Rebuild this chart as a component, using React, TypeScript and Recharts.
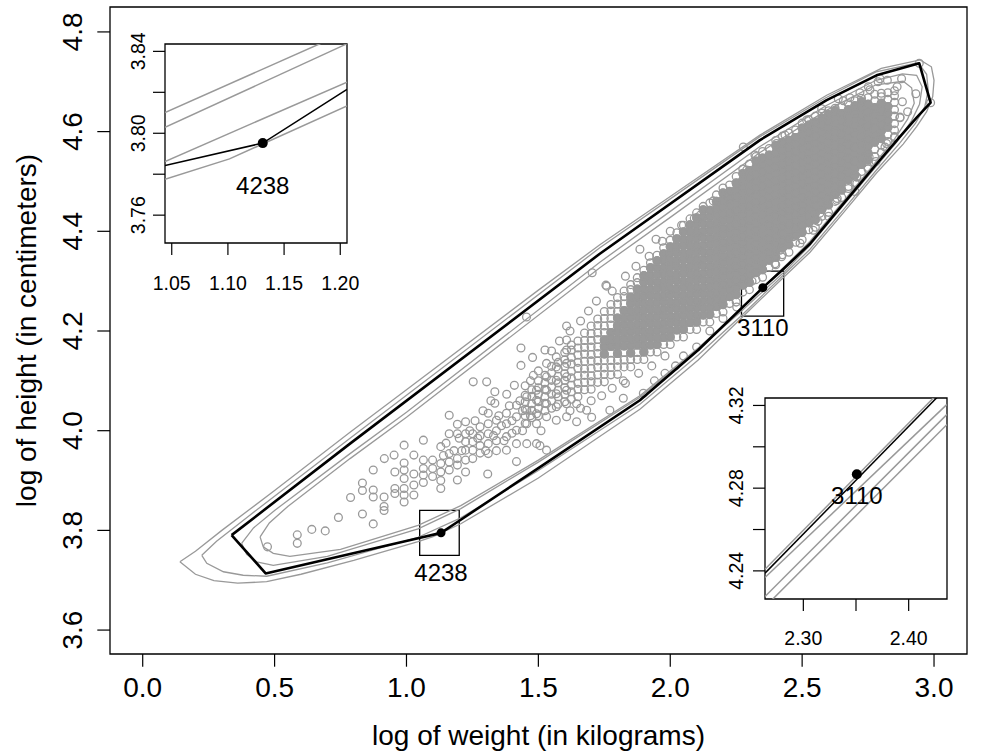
import React from 'react';
import { ComposedChart, Scatter, XAxis, YAxis, ReferenceArea } from 'recharts';

const FONT = '"Liberation Sans", Arial, Helvetica, sans-serif';
const GRAY = '#999999';
const BLACK = '#000000';

const X_TITLE = 'log of weight (in kilograms)';
const Y_TITLE = 'log of height (in centimeters)';

// ---------- main axes ----------
const mainXTicks = [0, 0.5, 1, 1.5, 2, 2.5, 3];
const mainYTicks = [3.6, 3.8, 4.0, 4.2, 4.4, 4.6, 4.8];
const mainXDomain = [-0.124, 3.125];
const mainYDomain = [3.552, 4.85];

// ---------- scattered (sparse) observations [logWeight, logHeight] ----------
const sparsePoints = [
  [0.473,3.767],[0.586,3.791],[0.586,3.774],[0.641,3.802],[0.692,3.799],[0.742,3.826],[0.788,3.866],[0.833,3.833],[0.833,3.895],[0.833,3.880],
  [0.874,3.813],[0.874,3.921],[0.874,3.881],[0.874,3.867],[0.915,3.867],[0.915,3.848],[0.915,3.840],[0.916,3.944],[0.953,3.951],[0.956,3.917],
  [0.956,3.884],[0.956,3.874],[0.991,3.971],[0.991,3.935],[0.991,3.921],[0.991,3.904],[0.991,3.884],[0.991,3.871],[0.991,3.857],[1.028,3.951],
  [1.028,3.913],[1.028,3.891],[1.028,3.871],[1.064,3.981],[1.064,3.941],[1.064,3.924],[1.064,3.911],[1.064,3.896],[1.099,3.941],[1.099,3.924],
  [1.099,3.908],[1.130,3.968],[1.130,3.934],[1.130,3.917],[1.130,3.900],[1.130,3.884],[1.162,4.031],[1.162,3.994],[1.162,3.954],[1.162,3.937],
  [1.162,3.921],[1.193,4.013],[1.193,3.994],[1.193,3.944],[1.193,3.931],[1.193,3.901],[1.224,4.018],[1.224,3.994],[1.224,3.978],[1.224,3.961],
  [1.224,3.941],[1.224,3.917],[1.251,3.994],[1.251,3.978],[1.251,3.961],[1.251,3.944],[1.253,4.098],[1.279,4.008],[1.279,3.990],[1.279,3.970],
  [1.279,3.955],[1.304,4.098],[1.310,4.035],[1.310,4.014],[1.310,3.994],[1.310,3.974],[1.310,3.954],[1.308,3.913],[1.335,4.078],[1.335,4.055],
  [1.341,4.021],[1.341,4.000],[1.341,3.980],[1.341,3.960],[1.380,4.073],[1.379,4.035],[1.379,4.014],[1.379,3.988],[1.379,3.961],[1.409,4.091],
  [1.417,4.051],[1.417,4.028],[1.417,4.001],[1.417,3.974],[1.417,3.938],[1.434,4.166],[1.434,4.131],[1.455,4.228],[1.456,4.068],[1.456,4.041],
  [1.456,4.014],[1.456,3.974],[1.478,4.147],[1.481,4.111],[1.493,4.081],[1.493,4.061],[1.493,4.034],[1.493,4.014],[1.493,3.974],[1.525,4.162],
  [1.531,4.135],[1.531,4.108],[1.531,4.081],[1.531,4.054],[1.531,4.028],[1.531,3.961],[1.506,3.970],[1.568,4.148],[1.568,4.128],[1.568,4.101],
  [1.568,4.074],[1.568,4.048],[1.568,4.021],[1.607,4.210],[1.607,4.182],[1.607,4.162],[1.607,4.135],[1.607,4.108],[1.607,4.081],[1.607,4.054],
  [1.607,4.028],[1.645,4.018],[1.645,4.054],[1.683,4.041],[1.702,4.027],[1.704,4.317],[1.756,4.292],[1.759,4.290],[1.771,4.041],[1.822,4.065],
  [1.822,4.100],[1.898,4.075],[1.885,4.364],[1.946,4.384],[1.940,4.100],[1.980,4.115],[2.020,4.130],[2.050,4.150],[2.100,4.168],[2.043,4.412],
  [2.091,4.426],[2.113,4.432],[2.163,4.461],[2.220,4.469],[2.252,4.495],[2.290,4.523],[2.321,4.553],[2.277,4.569],[2.403,4.576],[2.435,4.593],
  [2.517,4.623],[2.574,4.646],[2.637,4.666],[2.656,4.662],[2.681,4.668],[2.719,4.678],[2.751,4.690],[2.757,4.684],[2.788,4.700],[2.795,4.706],
  [2.823,4.703],[2.877,4.706],[2.944,4.737],[2.931,4.676],[2.987,4.658],[2.871,4.628],[2.814,4.569],[2.754,4.549],[2.707,4.509],[2.707,4.496],
  [2.675,4.486],[2.633,4.466],[2.567,4.436],[2.542,4.402],[2.492,4.376],[2.466,4.389],[2.422,4.349],[2.416,4.362],[2.397,4.335],[2.277,4.307],
  [2.252,4.248],[2.200,4.225],[2.150,4.200],[2.310,4.300],[2.600,4.430],[2.750,4.525],[2.850,4.590],[2.900,4.640],[2.880,4.660],[2.860,4.690],
  [1.140,3.950],[1.150,3.975],[1.180,3.960],[1.200,3.985],[1.210,3.960],[1.240,4.000],[1.260,4.020],[1.270,3.985],[1.290,4.040],[1.300,3.960],
  [1.320,4.060],[1.330,3.990],[1.350,4.030],[1.360,4.010],[1.370,3.980],[1.390,4.050],[1.400,4.020],[1.400,3.995],[1.430,4.060],[1.440,4.040],
  [1.440,4.000],[1.450,4.090],[1.470,4.030],[1.470,4.100],[1.500,4.120],[1.510,4.000],[1.550,4.160],[1.580,4.180],[1.620,4.200],[1.660,4.220],
  [1.690,4.240],[1.720,4.260],[1.780,4.280],[1.830,4.310],[1.870,4.330],[1.920,4.350],[1.970,4.380],[2.000,4.400],[1.620,4.040],[1.660,4.045],
  [1.700,4.060],[1.740,4.070],[1.780,4.085],[1.830,4.095],[1.880,4.115],[1.930,4.130],[1.980,4.150],
  [2.593,4.462],[2.631,4.462],[2.707,4.509],[2.820,4.576],[2.871,4.629],[2.700,4.480],[2.780,4.540],[2.560,4.420],
];

// ---------- dense core observations: [logWeight, logHeight...] ----------
const densePoints = [
  [1.450,4.015,4.030,4.043,4.058,4.071],
  [1.475,4.026,4.041,4.054,4.069,4.082],
  [1.500,4.030,4.045,4.058,4.073,4.086,4.100],
  [1.525,4.040,4.055,4.068,4.083,4.096,4.111],
  [1.550,4.045,4.060,4.073,4.088,4.101,4.116,4.129],
  [1.575,4.053,4.068,4.081,4.096,4.109,4.124,4.137],
  [1.600,4.058,4.073,4.086,4.101,4.114,4.129,4.142,4.157],
  [1.625,4.063,4.078,4.091,4.106,4.119,4.134,4.147,4.162,4.172],
  [1.650,4.068,4.083,4.095,4.110,4.125,4.137,4.152,4.166,4.180],
  [1.675,4.082,4.097,4.111,4.124,4.139,4.154,4.167,4.181,4.196],
  [1.700,4.083,4.098,4.110,4.125,4.140,4.153,4.168,4.181,4.195,4.210],
  [1.725,4.097,4.112,4.127,4.140,4.155,4.168,4.183,4.196,4.211,4.224],
  [1.750,4.098,4.113,4.126,4.141,4.154,4.169,4.182,4.197,4.210,4.225,4.239],
  [1.775,4.112,4.127,4.141,4.156,4.169,4.184,4.197,4.212,4.225,4.240,4.253],
  [1.800,4.113,4.128,4.141,4.155,4.170,4.183,4.198,4.211,4.226,4.239,4.254,4.267],
  [1.825,4.128,4.142,4.157,4.170,4.185,4.198,4.213,4.226,4.241,4.254,4.269,4.280],
  [1.850,4.128,4.143,4.156,4.171,4.184,4.199,4.212,4.227,4.240,4.255,4.268,4.283,4.293],
  [1.875,4.143,4.157,4.172,4.185,4.200,4.213,4.228,4.241,4.256,4.269,4.284,4.297,4.307],
  [1.900,4.143,4.158,4.171,4.186,4.199,4.214,4.227,4.242,4.255,4.270,4.283,4.298,4.311,4.322],
  [1.925,4.158,4.172,4.187,4.200,4.215,4.228,4.243,4.256,4.271,4.284,4.299,4.312,4.327,4.337],
  [1.950,4.158,4.173,4.186,4.201,4.214,4.229,4.242,4.257,4.270,4.285,4.298,4.313,4.326,4.341,4.352],
  [1.975,4.173,4.187,4.202,4.215,4.230,4.243,4.258,4.271,4.286,4.299,4.314,4.327,4.342,4.355,4.367],
  [2.000,4.173,4.188,4.201,4.216,4.229,4.244,4.257,4.272,4.285,4.300,4.313,4.328,4.341,4.356,4.369,4.382],
  [2.025,4.188,4.202,4.217,4.230,4.245,4.258,4.273,4.286,4.301,4.314,4.329,4.342,4.357,4.370,4.385,4.397],
  [2.050,4.188,4.203,4.216,4.231,4.244,4.259,4.272,4.287,4.300,4.315,4.328,4.343,4.356,4.371,4.384,4.399,4.412],
  [2.075,4.203,4.217,4.232,4.245,4.260,4.273,4.288,4.301,4.316,4.329,4.344,4.357,4.372,4.385,4.400,4.413,4.425],
  [2.100,4.203,4.218,4.231,4.246,4.259,4.274,4.287,4.302,4.315,4.330,4.343,4.358,4.371,4.386,4.399,4.414,4.427,4.437],
  [2.125,4.218,4.232,4.247,4.260,4.275,4.288,4.303,4.316,4.331,4.344,4.359,4.372,4.387,4.400,4.415,4.428,4.443,4.450],
  [2.150,4.218,4.233,4.246,4.261,4.274,4.289,4.302,4.317,4.330,4.345,4.358,4.373,4.386,4.401,4.414,4.429,4.442,4.457],
  [2.175,4.235,4.249,4.264,4.277,4.292,4.305,4.320,4.333,4.348,4.361,4.376,4.389,4.404,4.417,4.432,4.445,4.460,4.473],
  [2.200,4.238,4.253,4.266,4.281,4.294,4.309,4.322,4.337,4.350,4.365,4.378,4.393,4.406,4.421,4.434,4.449,4.462,4.477,4.487],
  [2.225,4.255,4.269,4.284,4.297,4.312,4.325,4.340,4.353,4.368,4.381,4.396,4.409,4.424,4.437,4.452,4.465,4.480,4.493],
  [2.250,4.258,4.273,4.286,4.301,4.314,4.329,4.342,4.357,4.370,4.385,4.398,4.413,4.426,4.441,4.454,4.469,4.482,4.497,4.510],
  [2.275,4.278,4.292,4.307,4.320,4.335,4.348,4.363,4.376,4.391,4.404,4.419,4.432,4.447,4.460,4.475,4.488,4.503,4.516,4.525],
  [2.300,4.283,4.298,4.311,4.326,4.339,4.354,4.367,4.382,4.395,4.410,4.423,4.438,4.451,4.466,4.479,4.494,4.507,4.522,4.535],
  [2.325,4.303,4.317,4.332,4.345,4.360,4.373,4.388,4.401,4.416,4.429,4.444,4.457,4.472,4.485,4.500,4.513,4.528,4.541,4.550],
  [2.350,4.308,4.323,4.336,4.351,4.364,4.379,4.392,4.407,4.420,4.435,4.448,4.463,4.476,4.491,4.504,4.519,4.532,4.547,4.560],
  [2.375,4.328,4.342,4.357,4.370,4.385,4.398,4.413,4.426,4.441,4.454,4.469,4.482,4.497,4.510,4.525,4.538,4.553,4.566],
  [2.400,4.333,4.348,4.361,4.376,4.389,4.404,4.417,4.432,4.445,4.460,4.473,4.488,4.501,4.516,4.529,4.544,4.557,4.572,4.582],
  [2.425,4.353,4.367,4.382,4.395,4.410,4.423,4.438,4.451,4.466,4.479,4.494,4.507,4.522,4.535,4.550,4.563,4.578,4.591],
  [2.450,4.358,4.373,4.386,4.401,4.414,4.429,4.442,4.457,4.470,4.485,4.498,4.513,4.526,4.541,4.554,4.569,4.582,4.597],
  [2.475,4.378,4.392,4.407,4.420,4.435,4.448,4.463,4.476,4.491,4.504,4.519,4.532,4.547,4.560,4.575,4.588,4.603],
  [2.500,4.383,4.398,4.411,4.426,4.439,4.454,4.467,4.482,4.495,4.510,4.523,4.538,4.551,4.566,4.579,4.594,4.607,4.617],
  [2.525,4.403,4.417,4.432,4.445,4.460,4.473,4.488,4.501,4.516,4.529,4.544,4.557,4.572,4.585,4.600,4.613,4.624],
  [2.550,4.408,4.423,4.436,4.451,4.464,4.479,4.492,4.507,4.520,4.535,4.548,4.563,4.576,4.591,4.604,4.619,4.631],
  [2.575,4.430,4.444,4.459,4.472,4.487,4.500,4.515,4.528,4.543,4.556,4.571,4.584,4.599,4.612,4.627,4.637],
  [2.600,4.438,4.453,4.466,4.481,4.494,4.509,4.522,4.537,4.550,4.565,4.578,4.593,4.606,4.621,4.634,4.642],
  [2.625,4.460,4.474,4.489,4.502,4.517,4.530,4.545,4.558,4.573,4.586,4.601,4.614,4.629,4.642,4.647],
  [2.650,4.468,4.483,4.496,4.511,4.524,4.539,4.552,4.567,4.580,4.595,4.608,4.623,4.636,4.650],
  [2.675,4.490,4.504,4.519,4.532,4.547,4.560,4.575,4.588,4.603,4.616,4.631,4.644,4.656],
  [2.700,4.498,4.513,4.526,4.541,4.554,4.569,4.582,4.597,4.610,4.625,4.638,4.652,4.662],
  [2.725,4.520,4.534,4.549,4.562,4.577,4.590,4.605,4.618,4.633,4.646,4.660,4.667],
  [2.750,4.528,4.543,4.556,4.571,4.584,4.599,4.612,4.627,4.640,4.655,4.668],
  [2.775,4.550,4.564,4.579,4.592,4.607,4.620,4.635,4.648,4.662,4.675],
  [2.800,4.558,4.573,4.586,4.601,4.614,4.629,4.642,4.657,4.670,4.677],
  [2.825,4.580,4.594,4.609,4.622,4.637,4.650,4.665,4.678],
  [2.850,4.588,4.603,4.616,4.631,4.644,4.659,4.672,4.682],
];

// ---------- outlines ----------
const blackHull = [
  [0.337,3.7905],[0.466,3.7137],[1.044,3.7842],[1.131,3.795],[1.206,3.8214],[1.5,3.925],[1.885,4.061],[2.106,4.162],
  [2.351,4.287],[2.43,4.325],[2.53,4.375],[2.656,4.455],[2.782,4.535],[2.871,4.59],[2.934,4.628],[2.987,4.658],
  [2.944,4.737],[2.782,4.713],[2.593,4.663],[2.34,4.583],[1.733,4.355],[0.786,3.974],[0.337,3.7905],
];
const contour1 = [
  [0.141,3.737],[0.2,3.712],[0.27,3.699],[0.36,3.694],[0.47,3.697],[0.6,3.712],[0.8,3.74],[1.044,3.7775],[1.101,3.7875],
  [1.206,3.8133],[1.5,3.905],[1.885,4.043],[2.106,4.142],[2.263,4.2227],[2.436,4.311],[2.53,4.358],[2.656,4.437],[2.782,4.517],
  [2.883,4.575],[2.934,4.61],[2.972,4.64],[2.995,4.67],[3.0,4.703],[2.99,4.73],[2.947,4.744],[2.8,4.727],[2.593,4.673],
  [2.34,4.593],[2.0,4.47],[1.733,4.373],[1.5,4.282],[1.0,4.082],[0.786,3.997],[0.5,3.88],[0.3,3.8],[0.2,3.758],[0.141,3.737],
];
const contour2 = [
  [0.224,3.75],[0.243,3.734],[0.306,3.717],[0.381,3.71],[0.47,3.708],[0.7,3.735],[1.044,3.7862],[1.206,3.825],[1.5,3.92],
  [1.885,4.053],[2.106,4.152],[2.263,4.2276],[2.436,4.3157],[2.53,4.364],[2.656,4.443],[2.782,4.523],[2.87,4.577],[2.93,4.617],
  [2.965,4.65],[2.978,4.683],[2.972,4.715],[2.94,4.738],[2.78,4.72],[2.59,4.668],[2.34,4.59],[2.0,4.465],[1.733,4.367],
  [1.0,4.071],[0.786,3.985],[0.4,3.828],[0.28,3.778],[0.224,3.75],
];
const contour3 = [
  [0.375,3.774],[0.394,3.752],[0.432,3.737],[0.495,3.73],[0.7,3.748],[1.044,3.8029],[1.206,3.8437],[1.5,3.937],[1.885,4.067],
  [2.106,4.164],[2.263,4.2368],[2.436,4.3205],[2.53,4.372],[2.656,4.452],[2.782,4.531],[2.86,4.58],[2.915,4.622],[2.945,4.655],
  [2.955,4.69],[2.934,4.713],[2.88,4.716],[2.78,4.703],[2.59,4.652],[2.34,4.57],[2.0,4.44],[1.733,4.338],[1.0,4.037],
  [0.786,3.954],[0.5,3.84],[0.42,3.805],[0.375,3.774],
];
const contour4 = [
  [0.445,3.787],[0.457,3.767],[0.495,3.754],[0.558,3.748],[0.75,3.762],[1.044,3.8101],[1.206,3.8496],[1.5,3.941],[1.885,4.07],
  [2.106,4.166],[2.263,4.2408],[2.423,4.3237],[2.53,4.38],[2.656,4.46],[2.75,4.52],[2.85,4.585],[2.9,4.625],[2.925,4.657],
  [2.915,4.688],[2.883,4.701],[2.78,4.694],[2.59,4.642],[2.34,4.558],[2.0,4.428],[1.733,4.327],[1.0,4.027],[0.786,3.944],
  [0.55,3.848],[0.48,3.815],[0.445,3.787],
];

// ---------- highlighted observations and zoom boxes ----------
const highlightIds = ['4238', '3110'];
const highlightX = [1.131, 2.351];
const highlightY = [3.795, 4.287];
const zoomBoxX = [[1.05, 1.20], [2.27, 2.43]];
const zoomBoxY = [[3.75, 3.84], [4.23, 4.32]];

// ---------- inset 1 (4238) ----------
const inset1XDomain = [1.044, 1.206];
const inset1YDomain = [3.7464, 3.8436];
const inset1XTicks = [1.05, 1.10, 1.15, 1.20];
const inset1XLabels = [1.05, 1.10, 1.15, 1.20];
const inset1YTicks = [3.76, 3.78, 3.80, 3.82, 3.84];
const inset1YLabels = [3.76, 3.80, 3.84];
const inset1Gray = [
  [[1.044,3.8101],[1.206,3.8496]],
  [[1.044,3.8029],[1.206,3.8437]],
  [[1.044,3.7862],[1.206,3.825]],
  [[1.044,3.7775],[1.1014,3.7875],[1.206,3.8133]],
];
const inset1Black = [[1.044,3.7842],[1.131,3.7952],[1.206,3.8214]];
const inset1Point = [1.131, 3.7952];

// ---------- inset 2 (3110) ----------
const inset2XDomain = [2.2636, 2.4364];
const inset2YDomain = [4.2264, 4.3236];
const inset2XTicks = [2.30, 2.35, 2.40];
const inset2XLabels = [2.30, 2.40];
const inset2YTicks = [4.24, 4.26, 4.28, 4.30, 4.32];
const inset2YLabels = [4.24, 4.28, 4.32];
const inset2Gray = [
  [[2.2636,4.2408],[2.4364,4.3303]],
  [[2.2636,4.2368],[2.4364,4.3205]],
  [[2.2636,4.2276],[2.4364,4.3157]],
  [[2.2636,4.2226],[2.4364,4.3108]],
];
const inset2Black = [[2.2636,4.2389],[2.4364,4.3288]];
const inset2Point = [2.3508, 4.2867];

// ---------- helpers ----------
const toXY = (arr: number[][]) => arr.map(([x, y]) => ({ x, y }));
const NoShape = () => <g />;

const allPoints = [
  ...toXY(sparsePoints),
  ...densePoints.flatMap(([x, ...ys]) => ys.map((y) => ({ x, y }))),
];

// Where the open circles overlap so much that they merge into a solid grey mass:
// the inner circles of each dense column, tapering at the low-weight end.
const solidPoints = densePoints
  .filter(([x]) => x >= 1.75 && x <= 2.83)
  .flatMap(([x, ...ys]) => {
    let k = 1;
    if (x < 1.9) k = 1 + Math.ceil((1.9 - x) / 0.05 - 1e-9);
    if (x > 2.76) k = 2;
    return ys.slice(k, ys.length - k).map((y) => ({ x, y }));
  });

const OpenCircle = (p: any) => (
  <circle cx={p.cx} cy={p.cy} r={3.9} fill="none" stroke={GRAY} strokeWidth={1.3} />
);
const SolidCircle = (p: any) => (
  <circle cx={p.cx} cy={p.cy} r={4.6} fill={GRAY} stroke="none" />
);

const txt = { fontFamily: FONT, fill: BLACK } as const;

function Inset(props: any) {
  const { left, top, w, h, xDomain, yDomain, xTicks, xLabels, yTicks, yLabels, gray, black, point, id, labelDy, xLabGap, yLabGap } = props;
  const ML = 60, MT = 30, MR = 30, XH = 60;
  const W = w + ML + MR;
  const H = h + MT + XH;
  return (
    <div style={{ position: 'absolute', left: left - ML, top: top - MT, width: W, height: H }}>
      <ComposedChart width={W} height={H} margin={{ top: MT, right: MR, bottom: 0, left: 0 }}>
        <XAxis
          type="number" dataKey="x" domain={xDomain} ticks={xTicks} interval={0} allowDataOverflow
          axisLine={false} tickSize={12} tickLine={{ stroke: BLACK, strokeWidth: 1.2 }} height={XH}
          tick={(p: any) =>
            xLabels.includes(p.payload.value) ? (
              <text x={p.x} y={MT + h + xLabGap} textAnchor="middle" fontSize={19.5} {...txt}>
                {Number(p.payload.value).toFixed(2)}
              </text>
            ) : <g />
          }
        />
        <YAxis
          type="number" dataKey="y" domain={yDomain} ticks={yTicks} interval={0} allowDataOverflow
          axisLine={false} tickSize={12} tickLine={{ stroke: BLACK, strokeWidth: 1.2 }} width={ML}
          tick={(p: any) =>
            yLabels.includes(p.payload.value) ? (
              <text x={ML - yLabGap} y={p.y} transform={`rotate(-90, ${ML - yLabGap}, ${p.y})`} textAnchor="middle" fontSize={19.5} {...txt}>
                {Number(p.payload.value).toFixed(2)}
              </text>
            ) : <g />
          }
        />
        {gray.map((ln: number[][], i: number) => (
          <Scatter key={'g' + i} data={toXY(ln)} isAnimationActive={false} shape={NoShape}
            line={{ stroke: GRAY, strokeWidth: 1.5, fill: 'none' }} lineType="joint" />
        ))}
        <Scatter data={toXY(black)} isAnimationActive={false} shape={NoShape}
          line={{ stroke: BLACK, strokeWidth: 1.5, fill: 'none' }} lineType="joint" />
        <Scatter
          data={[{ x: point[0], y: point[1] }]} isAnimationActive={false}
          shape={(p: any) => (
            <g>
              <circle cx={p.cx} cy={p.cy} r={5} fill={BLACK} />
              <text x={p.cx} y={p.cy + labelDy} textAnchor="middle" fontSize={24} {...txt}>{id}</text>
            </g>
          )}
        />
        <ReferenceArea x1={xDomain[0]} x2={xDomain[1]} y1={yDomain[0]} y2={yDomain[1]} fill="none" fillOpacity={0}
          stroke={BLACK} strokeWidth={1.3} ifOverflow="visible" />
      </ComposedChart>
    </div>
  );
}

export default function App() {
  const outlines = [contour1, contour2, contour3, contour4];
  return (
    <div style={{ position: 'absolute', left: 0, top: 0, width: 983, height: 754, background: '#ffffff' }}>
      <ComposedChart width={983} height={754} margin={{ top: 7, right: 16, bottom: 0, left: 0 }}>
        <XAxis
          type="number" dataKey="x" domain={mainXDomain} ticks={mainXTicks} interval={0} allowDataOverflow
          axisLine={false} tickSize={12.7} tickLine={{ stroke: BLACK, strokeWidth: 1.2 }} height={100}
          tick={(p: any) => (
            <text x={p.x} y={697} textAnchor="middle" fontSize={28} {...txt}>
              {Number(p.payload.value).toFixed(1)}
            </text>
          )}
          label={{
            value: X_TITLE,
            content: () => (
              <text x={538.5} y={745} textAnchor="middle" fontSize={28} {...txt}>{X_TITLE}</text>
            ),
          }}
        />
        <YAxis
          type="number" dataKey="y" domain={mainYDomain} ticks={mainYTicks} interval={0} allowDataOverflow
          axisLine={false} tickSize={12.7} tickLine={{ stroke: BLACK, strokeWidth: 1.2 }} width={110}
          tick={(p: any) => (
            <text x={82} y={p.y} transform={`rotate(-90, 82, ${p.y})`} textAnchor="middle" fontSize={28} {...txt}>
              {Number(p.payload.value).toFixed(1)}
            </text>
          )}
          label={{
            value: Y_TITLE,
            content: () => (
              <text x={36} y={330.5} transform="rotate(-90, 36, 330.5)" textAnchor="middle" fontSize={28} {...txt}>{Y_TITLE}</text>
            ),
          }}
        />
        <Scatter data={solidPoints} isAnimationActive={false} shape={SolidCircle} />
        <Scatter data={allPoints} isAnimationActive={false} shape={OpenCircle} />
        {outlines.map((c, i) => (
          <Scatter key={'c' + i} data={toXY(c)} isAnimationActive={false} shape={NoShape}
            line={{ stroke: GRAY, strokeWidth: 1.3, fill: 'none' }} lineType="joint" />
        ))}
        <Scatter data={toXY(blackHull)} isAnimationActive={false} shape={NoShape}
          line={{ stroke: BLACK, strokeWidth: 2.6, fill: 'none', strokeLinejoin: 'round' }} lineType="joint" />
        {zoomBoxX.map((bx, i) => (
          <ReferenceArea key={'b' + i} x1={bx[0]} x2={bx[1]} y1={zoomBoxY[i][0]} y2={zoomBoxY[i][1]}
            fill="none" fillOpacity={0} stroke={BLACK} strokeWidth={1.3} ifOverflow="visible" />
        ))}
        <Scatter
          data={highlightIds.map((id, i) => ({ x: highlightX[i], y: highlightY[i], id }))}
          isAnimationActive={false}
          shape={(p: any) => (
            <g>
              <circle cx={p.cx} cy={p.cy} r={4.5} fill={BLACK} />
              <text x={p.cx} y={p.cy + 48.5} textAnchor="middle" fontSize={24} {...txt}>{p.payload ? p.payload.id : p.id}</text>
            </g>
          )}
        />
        <ReferenceArea x1={mainXDomain[0]} x2={mainXDomain[1]} y1={mainYDomain[0]} y2={mainYDomain[1]}
          fill="none" fillOpacity={0} stroke={BLACK} strokeWidth={1.3} ifOverflow="visible" />
      </ComposedChart>

      <Inset
        left={165} top={44} w={182} h={199}
        xDomain={inset1XDomain} yDomain={inset1YDomain}
        xTicks={inset1XTicks} xLabels={inset1XLabels} yTicks={inset1YTicks} yLabels={inset1YLabels}
        gray={inset1Gray} black={inset1Black} point={inset1Point} id={highlightIds[0]}
        labelDy={51} xLabGap={46.5} yLabGap={20}
      />
      <Inset
        left={765} top={398} w={182} h={201}
        xDomain={inset2XDomain} yDomain={inset2YDomain}
        xTicks={inset2XTicks} xLabels={inset2XLabels} yTicks={inset2YTicks} yLabels={inset2YLabels}
        gray={inset2Gray} black={inset2Black} point={inset2Point} id={highlightIds[1]}
        labelDy={30} xLabGap={46} yLabGap={21.7}
      />
    </div>
  );
}
